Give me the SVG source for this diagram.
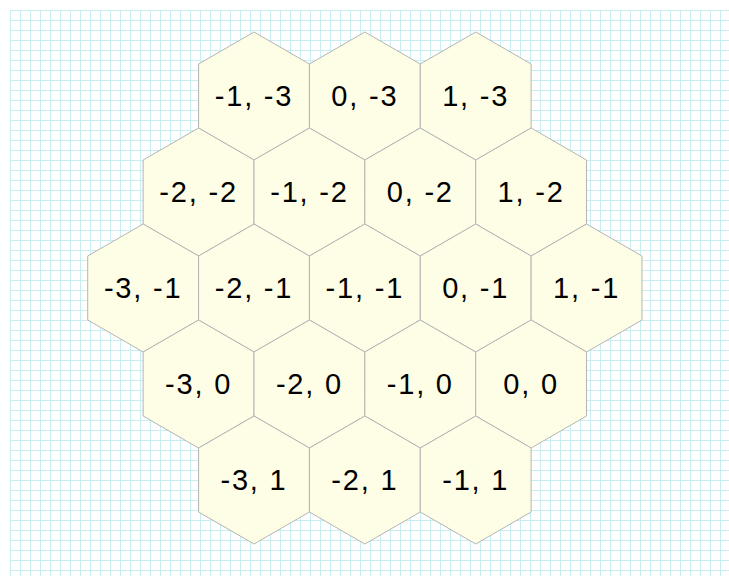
<svg xmlns="http://www.w3.org/2000/svg" xmlns:xlink="http://www.w3.org/1999/xlink" width="729" height="576" viewBox="0 0 729 576">
<defs>
<pattern id="grid" x="10" y="10" width="10" height="10" patternUnits="userSpaceOnUse">
<rect x="0" y="0" width="1" height="10" fill="#c8eef2"/>
<rect x="0" y="0" width="10" height="1" fill="#c8eef2"/>
</pattern>
<polygon id="hex" points="0,-64 55.4256,-32 55.4256,32 0,64 -55.4256,32 -55.4256,-32"/>
</defs>
<style>
.hex use{fill:#fefee6;stroke:#b4b4b4;stroke-width:1}
.hex text{font-family:"Liberation Sans",Arial,sans-serif;font-size:29px;letter-spacing:1.8px;fill:#000;text-anchor:middle}
</style>
<rect width="729" height="576" fill="#ffffff"/>
<rect x="10" y="10" width="719" height="566" fill="url(#grid)"/>
<g id="connectors"/>
<g class="hex">
<g id="h-1_-3" transform="translate(254,96)"><use xlink:href="#hex"/><text y="10">-1, -3</text></g>
<g id="h0_-3" transform="translate(364.85,96)"><use xlink:href="#hex"/><text y="10">0, -3</text></g>
<g id="h1_-3" transform="translate(475.7,96)"><use xlink:href="#hex"/><text y="10">1, -3</text></g>
<g id="h-2_-2" transform="translate(198.58,192)"><use xlink:href="#hex"/><text y="10">-2, -2</text></g>
<g id="h-1_-2" transform="translate(309.43,192)"><use xlink:href="#hex"/><text y="10">-1, -2</text></g>
<g id="h0_-2" transform="translate(420.28,192)"><use xlink:href="#hex"/><text y="10">0, -2</text></g>
<g id="h1_-2" transform="translate(531.13,192)"><use xlink:href="#hex"/><text y="10">1, -2</text></g>
<g id="h-3_-1" transform="translate(143.15,288)"><use xlink:href="#hex"/><text y="10">-3, -1</text></g>
<g id="h-2_-1" transform="translate(254,288)"><use xlink:href="#hex"/><text y="10">-2, -1</text></g>
<g id="h-1_-1" transform="translate(364.85,288)"><use xlink:href="#hex"/><text y="10">-1, -1</text></g>
<g id="h0_-1" transform="translate(475.7,288)"><use xlink:href="#hex"/><text y="10">0, -1</text></g>
<g id="h1_-1" transform="translate(586.55,288)"><use xlink:href="#hex"/><text y="10">1, -1</text></g>
<g id="h-3_0" transform="translate(198.58,384)"><use xlink:href="#hex"/><text y="10">-3, 0</text></g>
<g id="h-2_0" transform="translate(309.43,384)"><use xlink:href="#hex"/><text y="10">-2, 0</text></g>
<g id="h-1_0" transform="translate(420.28,384)"><use xlink:href="#hex"/><text y="10">-1, 0</text></g>
<g id="h0_0" transform="translate(531.13,384)"><use xlink:href="#hex"/><text y="10">0, 0</text></g>
<g id="h-3_1" transform="translate(254,480)"><use xlink:href="#hex"/><text y="10">-3, 1</text></g>
<g id="h-2_1" transform="translate(364.85,480)"><use xlink:href="#hex"/><text y="10">-2, 1</text></g>
<g id="h-1_1" transform="translate(475.7,480)"><use xlink:href="#hex"/><text y="10">-1, 1</text></g>
</g>
</svg>
